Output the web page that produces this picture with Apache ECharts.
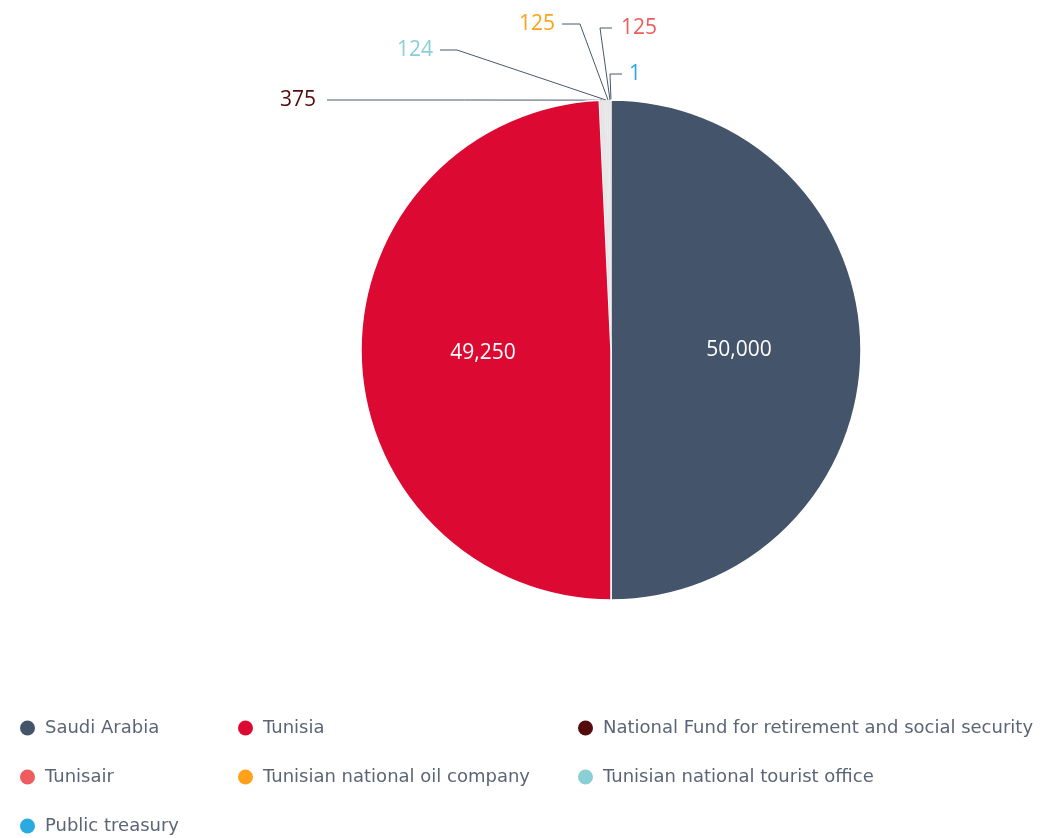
<!DOCTYPE html>
<html>
<head>
<meta charset="utf-8">
<script src="https://cdn.jsdelivr.net/npm/echarts@6/dist/echarts.min.js"></script>
<style>
  html, body { margin: 0; padding: 0; background: #ffffff; }
  #chart { width: 1045px; height: 838px; }
</style>
</head>
<body>
<div id="chart"></div>
<script>
// Shareholders and their stakes
const names = [
  'Saudi Arabia',
  'Tunisia',
  'National Fund for retirement and social security',
  'Tunisian national tourist office',
  'Tunisian national oil company',
  'Tunisair',
  'Public treasury'
];
const values = [50000, 49250, 375, 124, 125, 125, 1];
const colors = ['#44546a', '#dc0a32', '#540b0b', '#8acfd6', '#ffa21a', '#ee5c5f', '#29abe2'];

// Legend grid: [name, column, row]
const legendCells = [
  ['Saudi Arabia', 0, 0],
  ['Tunisia', 1, 0],
  ['National Fund for retirement and social security', 2, 0],
  ['Tunisair', 0, 1],
  ['Tunisian national oil company', 1, 1],
  ['Tunisian national tourist office', 2, 1],
  ['Public treasury', 0, 2]
];
const legendColLeft = [20, 238, 578];
const legendRowTop = 718;
const legendRowStep = 49;

const smallSliceFill = '#e6e6e6';
const fontLabel = '"Open Sans", "Noto Sans", sans-serif';
const fontLegend = '"DejaVu Sans", "Noto Sans", sans-serif';

const pieCenter = [611, 350];
const pieRadius = 250;

// Where the outside value labels sit: text anchor and elbows of the leader line
const outsideLabelSpots = {
  'National Fund for retirement and social security': { tx: 316, ty: 100, ex: 327, align: 'right' },
  'Tunisian national tourist office': { tx: 433, ty: 50, ex: 440, ex2: 457, align: 'right' },
  'Tunisian national oil company': { tx: 555, ty: 24, ex: 562, ex2: 580, align: 'right' },
  'Tunisair': { tx: 621, ty: 28, ex: 612, ex2: 600, align: 'left' },
  'Public treasury': { tx: 629, ty: 74, ex: 622, ex2: 610, align: 'left' }
};

// Point on the rim at the middle of slice i (clockwise from 12 o'clock)
const total = values.reduce((a, b) => a + b, 0);
function rimPoint(i) {
  let before = 0;
  for (let k = 0; k < i; k++) before += values[k];
  const frac = (before + values[i] / 2) / total;
  const a = frac * Math.PI * 2;
  return [pieCenter[0] + pieRadius * Math.sin(a), pieCenter[1] - pieRadius * Math.cos(a)];
}

const chart = echarts.init(document.getElementById('chart'), null, { renderer: 'canvas' });

const pieData = names.map((n, i) => {
  const big = i < 2;
  return {
    name: n,
    value: values[i],
    itemStyle: big
      ? { color: colors[i], borderColor: '#ffffff', borderWidth: 1.5 }
      : { color: smallSliceFill, borderWidth: 0 },
    label: big
      ? { position: 'inside', color: '#ffffff', fontSize: 21 }
      : { position: 'outside', color: colors[i], fontSize: 21 },
    labelLine: { show: !big }
  };
});

const legends = legendCells.map(([n, c, r]) => ({
  orient: 'horizontal',
  left: legendColLeft[c],
  top: legendRowTop + r * legendRowStep,
  padding: 0,
  icon: 'circle',
  itemWidth: 15,
  itemHeight: 15,
  selectedMode: false,
  data: [{
    name: n,
    itemStyle: { color: colors[names.indexOf(n)], borderWidth: 0 }
  }],
  textStyle: {
    color: '#5b6575',
    fontFamily: fontLegend,
    fontSize: 18,
    lineHeight: 20,
    padding: [0, 0, 0, 5]
  }
}));

chart.setOption({
  animation: false,
  legend: legends,
  series: [{
    type: 'pie',
    center: pieCenter,
    radius: [0, pieRadius],
    startAngle: 90,
    clockwise: true,
    avoidLabelOverlap: false,
    label: {
      formatter: p => p.value.toLocaleString('en-US'),
      fontFamily: fontLabel,
      fontSize: 21
    },
    labelLine: {
      lineStyle: { color: '#4a586b', width: 1 },
      length: 10,
      length2: 10
    },
    emphasis: { disabled: true },
    data: pieData,
    labelLayout: function (params) {
      const spot = outsideLabelSpots[names[params.dataIndex]];
      if (!spot) return {};
      const start = rimPoint(params.dataIndex);
      const pts = [start];
      if (spot.ex2 !== undefined) pts.push([spot.ex2, spot.ty]);
      else pts.push([(start[0] + spot.ex) / 2, spot.ty]);
      pts.push([spot.ex, spot.ty]);
      return {
        x: spot.tx,
        y: spot.ty,
        align: spot.align,
        verticalAlign: 'middle',
        labelLinePoints: pts
      };
    }
  }]
});
</script>
</body>
</html>
